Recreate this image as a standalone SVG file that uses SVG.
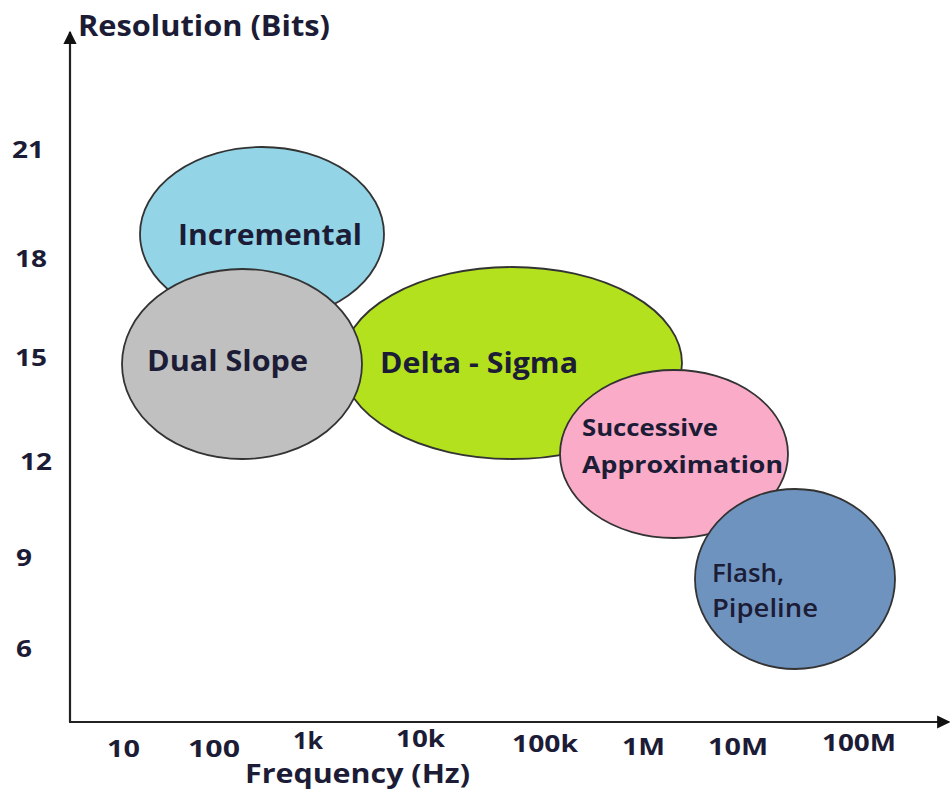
<svg xmlns="http://www.w3.org/2000/svg" width="950" height="791" viewBox="0 0 950 791">
  <style>
    .lbl { font-family: "Open Sans", "Liberation Sans", sans-serif; font-weight: bold; fill: #1c1c36; }
    .reg { font-family: "Open Sans", "Liberation Sans", sans-serif; font-weight: 600; fill: #1c1c36; }
    .bub { stroke: #333333; stroke-width: 1.8; }
    .axis { stroke: #222222; stroke-width: 2.2; fill: none; }
  </style>
  <defs>
    <marker id="arrow" viewBox="0 0 10 10" refX="9" refY="5" markerWidth="6.5" markerHeight="6" orient="auto" markerUnits="strokeWidth">
      <path d="M0,0 L10,5 L0,10 z" fill="#111111"/>
    </marker>
  </defs>
  <rect width="950" height="791" fill="#ffffff"/>

  <!-- axes -->
  <g id="axes">
    <line class="axis" x1="70" y1="722" x2="70" y2="32" marker-end="url(#arrow)"/>
    <line class="axis" x1="69" y1="722" x2="949" y2="722" marker-end="url(#arrow)"/>
  </g>

  <!-- axis titles and ticks -->
  <g id="axis-labels">
    <text class="lbl" x="78" y="36" font-size="28" textLength="252" lengthAdjust="spacingAndGlyphs">Resolution (Bits)</text>
    <text class="lbl" x="245" y="783" font-size="26" textLength="225" lengthAdjust="spacingAndGlyphs">Frequency (Hz)</text>
    <g font-size="24">
      <text class="lbl" x="12" y="158" textLength="32" lengthAdjust="spacingAndGlyphs">21</text>
      <text class="lbl" x="15" y="267" textLength="32" lengthAdjust="spacingAndGlyphs">18</text>
      <text class="lbl" x="15" y="366" textLength="32" lengthAdjust="spacingAndGlyphs">15</text>
      <text class="lbl" x="20" y="470" textLength="32" lengthAdjust="spacingAndGlyphs">12</text>
      <text class="lbl" x="16" y="566" textLength="16" lengthAdjust="spacingAndGlyphs">9</text>
      <text class="lbl" x="16" y="657" textLength="16" lengthAdjust="spacingAndGlyphs">6</text>
      <text class="lbl" x="107" y="757" textLength="33" lengthAdjust="spacingAndGlyphs">10</text>
      <text class="lbl" x="188" y="757" textLength="52" lengthAdjust="spacingAndGlyphs">100</text>
      <text class="lbl" x="293" y="749" textLength="30" lengthAdjust="spacingAndGlyphs">1k</text>
      <text class="lbl" x="396" y="747" textLength="49" lengthAdjust="spacingAndGlyphs">10k</text>
      <text class="lbl" x="512" y="752" textLength="66" lengthAdjust="spacingAndGlyphs">100k</text>
      <text class="lbl" x="622" y="755" textLength="43" lengthAdjust="spacingAndGlyphs">1M</text>
      <text class="lbl" x="708" y="755" textLength="60" lengthAdjust="spacingAndGlyphs">10M</text>
      <text class="lbl" x="822" y="751" textLength="74" lengthAdjust="spacingAndGlyphs">100M</text>
    </g>
  </g>

  <!-- converter regions -->
  <g id="incremental">
    <ellipse class="bub" cx="262" cy="234" rx="122" ry="87" fill="#93d4e6"/>
    <text class="lbl" x="178" y="245" font-size="28" textLength="184" lengthAdjust="spacingAndGlyphs">Incremental</text>
  </g>
  <g id="delta-sigma">
    <ellipse class="bub" cx="512" cy="363" rx="170" ry="96" fill="#b3e11e"/>
    <text class="lbl" x="380" y="373" font-size="28" textLength="198" lengthAdjust="spacingAndGlyphs">Delta - Sigma</text>
  </g>
  <g id="dual-slope">
    <ellipse class="bub" cx="242" cy="364" rx="120" ry="95" fill="#c0c0c0"/>
    <text class="lbl" x="147" y="371" font-size="28" textLength="161" lengthAdjust="spacingAndGlyphs">Dual Slope</text>
  </g>
  <g id="successive-approximation">
    <ellipse class="bub" cx="674" cy="454" rx="114" ry="84" fill="#f9abc8"/>
    <text class="lbl" x="582" y="436" font-size="24" textLength="136" lengthAdjust="spacingAndGlyphs">Successive</text>
    <text class="lbl" x="582" y="473" font-size="24" textLength="201" lengthAdjust="spacingAndGlyphs">Approximation</text>
  </g>
  <g id="flash-pipeline">
    <ellipse class="bub" cx="795" cy="579" rx="100" ry="90" fill="#6f93bf"/>
    <text class="reg" x="712" y="582" font-size="26" textLength="72" lengthAdjust="spacingAndGlyphs">Flash,</text>
    <text class="reg" x="712" y="617" font-size="26" textLength="106" lengthAdjust="spacingAndGlyphs">Pipeline</text>
  </g>
</svg>
